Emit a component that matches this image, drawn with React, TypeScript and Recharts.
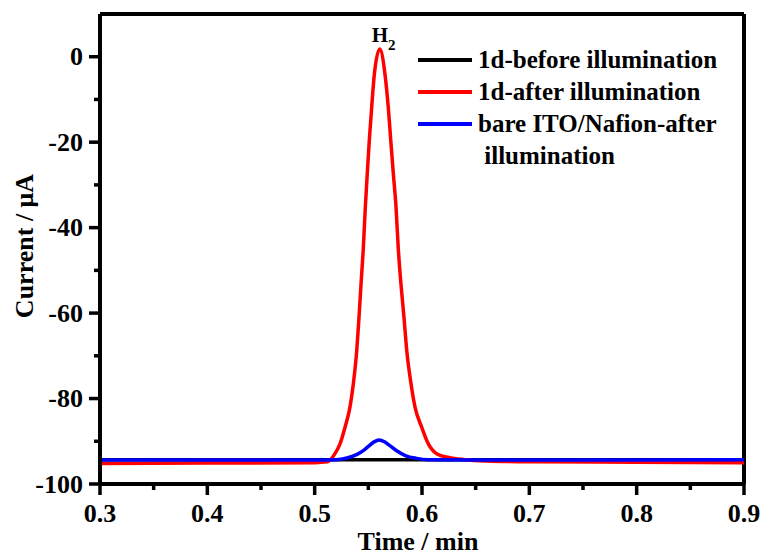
import { Line, LineChart, ReferenceDot, ReferenceLine, XAxis, YAxis } from 'recharts';

const FONT = '"Liberation Serif", "Times New Roman", serif';

// 1d electrode, dark
const beforeTime = [0.3, 0.45, 0.6, 0.75, 0.9];
const beforeCurrent = [-94.3, -94.3, -94.3, -94.3, -94.3];

// 1d electrode, illuminated (H2 peak)
const afterTime = [
  0.3, 0.4, 0.5, 0.512, 0.5189, 0.5236, 0.5283, 0.5329, 0.536, 0.5392, 0.5413, 0.5432, 0.5453,
  0.5472, 0.549, 0.5509, 0.5531, 0.5556, 0.5606, 0.5655, 0.5686, 0.5709, 0.5733, 0.5758, 0.5779,
  0.5804, 0.5832, 0.5858, 0.5898, 0.5935, 0.5997, 0.6059, 0.6137, 0.625, 0.64, 0.66, 0.7, 0.8, 0.9,
];
const afterCurrent = [
  -95.2, -95.1, -95.0, -94.8, -92.9, -90.6, -86.7, -82.0, -76.6, -68.8, -61.0, -53.2, -44.9,
  -35.2, -27.4, -19.6, -11.9, -4.1, 1.8, -4.1, -11.9, -19.6, -27.4, -35.2, -44.9,
  -53.2, -61.0, -68.8, -76.6, -82.0, -86.7, -90.6, -92.9, -93.8, -94.3, -94.6, -94.8, -94.9, -95.0,
];

// bare ITO/Nafion, illuminated
const bareTime = [
  0.3, 0.5, 0.52, 0.53, 0.54, 0.5453, 0.55, 0.555, 0.5603, 0.565, 0.57, 0.5764, 0.585, 0.595,
  0.605, 0.65, 0.8, 0.9,
];
const bareCurrent = [
  -94.4, -94.4, -94.3, -93.9, -93.0, -92.2, -91.2, -90.2, -89.7, -90.1, -91.0, -92.2, -93.4,
  -94.0, -94.3, -94.4, -94.4, -94.3,
];

const seriesNames = [
  '1d-before illumination',
  '1d-after illumination',
  'bare ITO/Nafion-after\n illumination',
];
const seriesColors = ['#000000', '#ff0000', '#0000ff'];

const xTicks = [0.3, 0.35, 0.4, 0.45, 0.5, 0.55, 0.6, 0.65, 0.7, 0.75, 0.8, 0.85, 0.9];
const yTicks = [-100, -90, -80, -70, -60, -50, -40, -30, -20, -10, 0];

const peakTime = 0.5606;
const peakCurrent = 1.8;

const toPoints = (t: number[], c: number[]) => t.map((time, i) => ({ time, current: c[i] }));

const beforeData = toPoints(beforeTime, beforeCurrent);
const afterData = toPoints(afterTime, afterCurrent);
const bareData = toPoints(bareTime, bareCurrent);

const textStyle = { fontFamily: FONT, fontWeight: 'bold' as const, fill: '#000' };

const XTick = ({ x, y, payload }: any) => {
  const major = Math.round(payload.value * 100) % 10 === 0;
  return (
    <g>
      <line x1={x} y1={y} x2={x} y2={y + (major ? 11 : 6)} stroke="#000" strokeWidth={3.5} />
      {major && (
        <text x={x} y={y + 38} textAnchor="middle" fontSize={26} {...textStyle}>
          {payload.value.toFixed(1)}
        </text>
      )}
    </g>
  );
};

const YTick = ({ x, y, payload }: any) => {
  const major = payload.value % 20 === 0;
  return (
    <g>
      <line x1={x} y1={y} x2={x - (major ? 11 : 6)} y2={y} stroke="#000" strokeWidth={3.5} />
      {major && (
        <text x={x - 17} y={y + 8.5} textAnchor="end" fontSize={26} {...textStyle}>
          {payload.value}
        </text>
      )}
    </g>
  );
};

const XTitle = ({ viewBox }: any) => (
  <text x={viewBox.x + viewBox.width / 2 - 4} y={viewBox.y + 66} textAnchor="middle" fontSize={26} {...textStyle}>
    Time / min
  </text>
);

const YTitle = ({ viewBox }: any) => {
  const cy = viewBox.y + viewBox.height / 2 - 3;
  return (
    <text x={33} y={cy} transform={`rotate(-90, 33, ${cy})`} textAnchor="middle" fontSize={26} {...textStyle}>
      Current / μA
    </text>
  );
};

const PeakLabel = ({ viewBox }: any) => {
  const cx = viewBox.x + viewBox.width / 2;
  const cy = viewBox.y + viewBox.height / 2;
  return (
    <text x={cx - 8} y={cy - 7} fontSize={21} {...textStyle}>
      H
      <tspan dy={8} fontSize={15}>
        2
      </tspan>
    </text>
  );
};

// legend sits over the chart's top-right corner
const LegendBox = () => (
  <div
    style={{
      position: 'absolute',
      left: 418,
      top: 44,
      fontFamily: FONT,
      fontWeight: 'bold',
      fontSize: 25,
      lineHeight: '32px',
      color: '#000',
    }}
  >
    {seriesNames.map((name, i) => (
      <div key={name} style={{ display: 'flex', alignItems: 'flex-start' }}>
        <span
          style={{ display: 'inline-block', width: 54, height: 4, marginTop: 14, marginRight: 6, background: seriesColors[i] }}
        />
        <span style={{ whiteSpace: 'pre' }}>{name}</span>
      </div>
    ))}
  </div>
);

export default function App() {
  return (
    <div style={{ position: 'absolute', left: 0, top: 0, width: 764, height: 555, background: '#fff' }}>
      <LineChart width={764} height={555} margin={{ top: 14, right: 20, bottom: 0, left: 0 }}>
        <XAxis
          dataKey="time"
          type="number"
          domain={[0.3, 0.9]}
          ticks={xTicks}
          interval={0}
          height={71}
          tickSize={0}
          tickMargin={0}
          tickLine={false}
          tick={<XTick />}
          axisLine={{ stroke: '#000', strokeWidth: 4 }}
          label={<XTitle />}
          allowDataOverflow
        />
        <YAxis
          type="number"
          domain={[-100, 10]}
          ticks={yTicks}
          interval={0}
          width={100}
          tickSize={0}
          tickMargin={0}
          tickLine={false}
          tick={<YTick />}
          axisLine={{ stroke: '#000', strokeWidth: 4 }}
          label={<YTitle />}
          allowDataOverflow
        />
        <ReferenceLine y={10} stroke="#000" strokeWidth={4} />
        <ReferenceLine x={0.9} stroke="#000" strokeWidth={4} />
        <Line data={beforeData} dataKey="current" stroke={seriesColors[0]} strokeWidth={3.5} dot={false} isAnimationActive={false} />
        <Line data={afterData} dataKey="current" type="monotone" stroke={seriesColors[1]} strokeWidth={3.5} dot={false} isAnimationActive={false} />
        <Line data={bareData} dataKey="current" type="monotone" stroke={seriesColors[2]} strokeWidth={3.5} dot={false} isAnimationActive={false} />
        <ReferenceDot x={peakTime} y={peakCurrent} r={0} fill="none" stroke="none" label={<PeakLabel />} />
      </LineChart>
      <LegendBox />
    </div>
  );
}
